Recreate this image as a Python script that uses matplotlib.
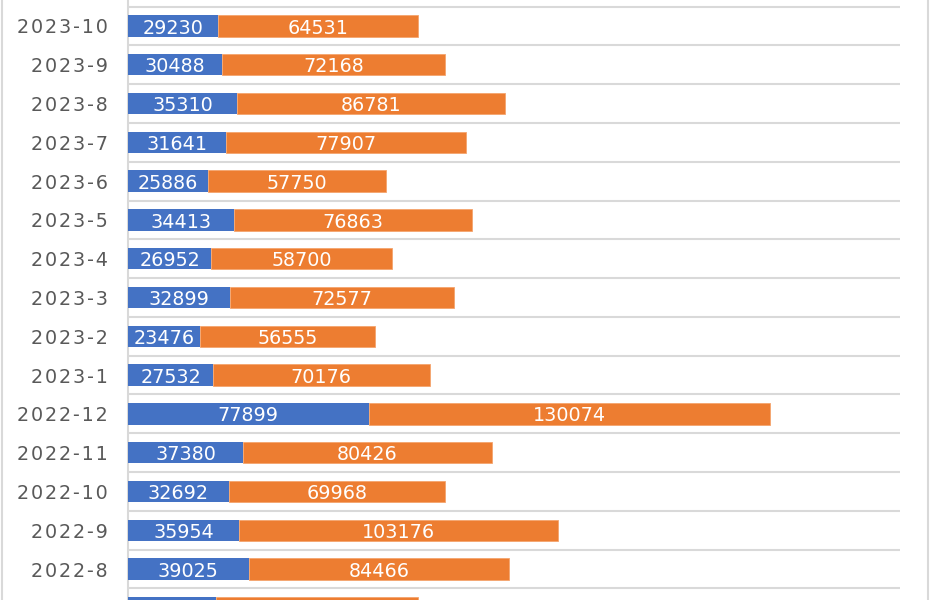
import matplotlib
matplotlib.use("Agg")
import matplotlib.pyplot as plt
from matplotlib.lines import Line2D

categories = ["2023-10", "2023-9", "2023-8", "2023-7", "2023-6", "2023-5", "2023-4",
              "2023-3", "2023-2", "2023-1", "2022-12", "2022-11", "2022-10", "2022-9",
              "2022-8", "2022-7"]
series_a = [29230, 30488, 35310, 31641, 25886, 34413, 26952, 32899, 23476, 27532,
            77899, 37380, 32692, 35954, 39025, 28500]
series_b = [64531, 72168, 86781, 77907, 57750, 76863, 58700, 72577, 56555, 70176,
            130074, 80426, 69968, 103176, 84466, 65400]

BLUE = "#4472C4"
ORANGE = "#ED7D31"
GRID = "#D9D9D9"
LABEL = "#595959"

W, H = 930, 600
fig = plt.figure(figsize=(W / 100, H / 100), dpi=100)
left_px, right_px = 128, 900
ax = fig.add_axes([left_px / W, 0, (right_px - left_px) / W, 1])

ypos = list(range(len(categories)))
ax.barh(ypos, series_a, height=0.55, color=BLUE, zorder=3)
ax.barh(ypos, series_b, left=series_a, height=0.55, color=ORANGE,
        edgecolor="#F4A46E", linewidth=0.6, zorder=3)

# value labels (the last, cropped row shows none in the view)
for y, a, b in list(zip(ypos, series_a, series_b))[:-1]:
    for xc, v in ((a / 2, a), (a + b / 2, b)):
        ax.annotate(f"{v}", (xc, y), xytext=(0, -1.5), textcoords="offset points",
                    color="white", ha="center", va="center",
                    fontsize=13.8, family="DejaVu Sans", zorder=4)

# category gridlines between bars
for k in range(len(categories) + 1):
    ax.axhline(k - 0.5, color=GRID, lw=1.5, zorder=1)

ax.set_yticks(ypos)
spaced = ["\u200a".join(c) for c in categories]
ax.set_yticklabels(spaced, color=LABEL, fontsize=13.8, family="DejaVu Sans")
ax.tick_params(axis="y", length=0, pad=14.6)
ax.set_xticks([])
ax.set_xlim(0, 250000)
ax.set_ylim(14.798, -0.670)
for s in ["top", "right", "bottom"]:
    ax.spines[s].set_visible(False)
ax.spines["left"].set_color(GRID)
ax.spines["left"].set_linewidth(1.5)

# chart frame edges
fig.add_artist(Line2D([2 / W, 2 / W], [0, 1], color=GRID, lw=1.5, transform=fig.transFigure))
fig.add_artist(Line2D([928 / W, 928 / W], [0, 1], color=GRID, lw=1.5, transform=fig.transFigure))

fig.savefig("out.png", dpi=100)
